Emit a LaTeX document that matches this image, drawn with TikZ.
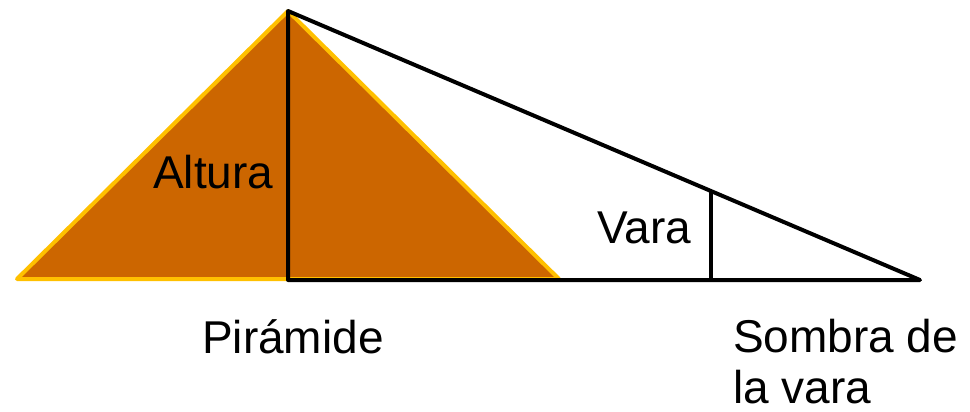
\documentclass[tikz,border=0pt]{standalone}
\usepackage{fontspec}
\setmainfont{Liberation Sans}
\usepackage{tikz}
\usetikzlibrary{calc}
\definecolor{piramide}{HTML}{CC6600}
\definecolor{borde}{HTML}{FFC000}

\begin{document}
\begin{tikzpicture}[
    x=1pt, y=-1pt,
    pira/.style={fill=piramide, draw=borde, line width=4pt, line join=round},
    linea/.style={draw=black, line width=4pt, line join=round},
    rotulo/.style={anchor=base west, inner sep=0pt, font=\fontsize{46}{51}\selectfont},
]
\useasboundingbox (0,0) rectangle (970,412);

% Puntos de la figura
\coordinate (apex)  at (288, 11);
\coordinate (pizq)  at (17, 279);
\coordinate (pder)  at (559, 279);
\coordinate (pie)   at (288, 280);
\coordinate (punta) at (920, 280);
\coordinate (varatop) at ($(apex)!0.67!(punta)$);
\coordinate (varapie) at (varatop |- punta);

% Piramide
\path[pira] (pizq) -- (apex) -- (pder) -- cycle;

% Altura, rayo de sol y vara
\draw[linea] (pie) -- (apex) -- (punta) -- cycle;
\draw[linea] (varatop) -- (varapie);

% Rotulos
\node[rotulo] (altura) at (153, 188) {Altura};
\node[rotulo] (vara)   at (597, 243) {Vara};
\node[rotulo] (piram)  at (202, 353) {Pirámide};
\node[rotulo] (sombra) at (733, 352) {Sombra de};
\node[rotulo] (lavara) at (733, 403) {la vara};

\end{tikzpicture}
\end{document}
